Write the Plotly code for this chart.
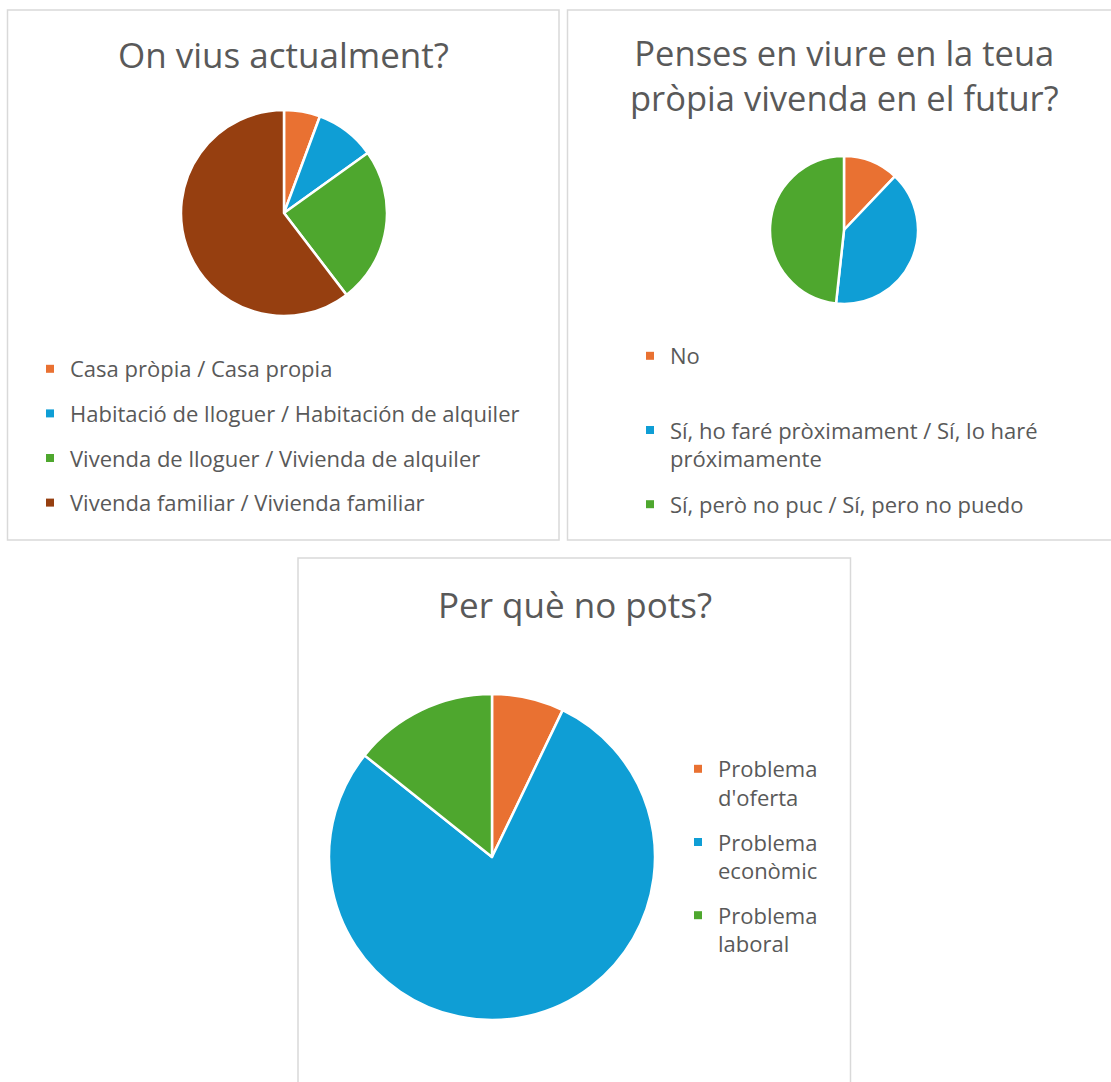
import plotly.graph_objects as go

# ---------------- data ----------------
q1_title = "On vius actualment?"
q1_labels = ["Casa pròpia / Casa propia",
             "Habitació de lloguer / Habitación de alquiler",
             "Vivenda de lloguer / Vivienda de alquiler",
             "Vivenda familiar / Vivienda familiar"]
q1_values = [3, 5, 13, 32]
q1_colors = ["#E97132", "#0F9ED5", "#4EA72E", "#963F10"]

q2_title = "Penses en viure en la teua<br>pròpia vivenda en el futur?"
q2_labels = ["No",
             "Sí, ho faré pròximament / Sí, lo haré<br>próximamente",
             "Sí, però no puc / Sí, pero no puedo"]
q2_values = [7, 23, 28]
q2_colors = ["#E97132", "#0F9ED5", "#4EA72E"]

q3_title = "Per què no pots?"
q3_labels = ["Problema<br>d'oferta", "Problema<br>econòmic", "Problema<br>laboral"]
q3_values = [1, 11, 2]
q3_colors = ["#E97132", "#0F9ED5", "#4EA72E"]

# ---------------- layout helpers ----------------
W, H = 1111, 1082
FONT = "Open Sans"
TXT = "#595959"


def fx(x):
    return x / W


def fy(y):
    return 1 - y / H


fig = go.Figure()


def add_pie(labels, values, colors, box, legend_name, pad_single):
    x0, y0, x1, y1 = box
    fig.add_trace(go.Pie(
        labels=labels, values=values, sort=False, direction="clockwise",
        rotation=0, textinfo="none", showlegend=False,
        marker=dict(colors=colors, line=dict(color="white", width=2.5)),
        domain=dict(x=[fx(x0), fx(x1)], y=[fy(y1), fy(y0)]),
    ))
    # legend entries (one per category); Excel gives equal slot heights
    for lab, col in zip(labels, colors):
        name = lab if ("<br>" in lab or not pad_single) else lab + "<br> "
        fig.add_trace(go.Scatter(
            x=[None], y=[None], mode="markers", name=name,
            marker=dict(symbol="square", size=8, color=col),
            legend=legend_name, legendgroup=legend_name + lab,
            showlegend=True, hoverinfo="skip",
        ))


add_pie(q1_labels, q1_values, q1_colors, (181, 110, 387, 316), "legend", False)
add_pie(q2_labels, q2_values, q2_colors, (770, 156, 918, 304), "legend2", True)
add_pie(q3_labels, q3_values, q3_colors, (329, 694, 655, 1020), "legend3", False)

panels = [(7.5, 10, 559, 540), (567.5, 10, 1120, 540), (298, 558, 850.5, 1095)]
shapes = [dict(type="rect", xref="paper", yref="paper",
               x0=fx(a), x1=fx(c), y0=fy(d), y1=fy(b),
               line=dict(color="#D9D9D9", width=1.5), layer="below")
          for a, b, c, d in panels]

titles = [(q1_title, 283, 55, 35), (q2_title, 844, 75, 34.5), (q3_title, 575, 604, 35)]
annotations = [dict(text=t, x=fx(x), y=fy(y), xref="paper", yref="paper",
                    xanchor="center", yanchor="middle", showarrow=False,
                    font=dict(family=FONT, size=s, color=TXT))
               for t, x, y, s in titles]

leg_font = dict(family=FONT, size=22, color=TXT)
fig.update_layout(
    width=W, height=H,
    margin=dict(l=0, r=0, t=0, b=0),
    paper_bgcolor="white", plot_bgcolor="white",
    xaxis=dict(visible=False), yaxis=dict(visible=False),
    shapes=shapes, annotations=annotations,
    legend=dict(x=fx(30), y=fy(348), xanchor="left", yanchor="top",
                font=leg_font, tracegroupgap=13, valign="top",
                bgcolor="rgba(0,0,0,0)"),
    legend2=dict(x=fx(630), y=fy(335), xanchor="left", yanchor="top",
                 font=leg_font, tracegroupgap=14, valign="top",
                 bgcolor="rgba(0,0,0,0)"),
    legend3=dict(x=fx(678), y=fy(748), xanchor="left", yanchor="top",
                 font=leg_font, tracegroupgap=13, valign="top",
                 bgcolor="rgba(0,0,0,0)"),
)

fig.write_html("out.html", config={"displayModeBar": False},
               post_script="document.body.style.margin='0px';")
